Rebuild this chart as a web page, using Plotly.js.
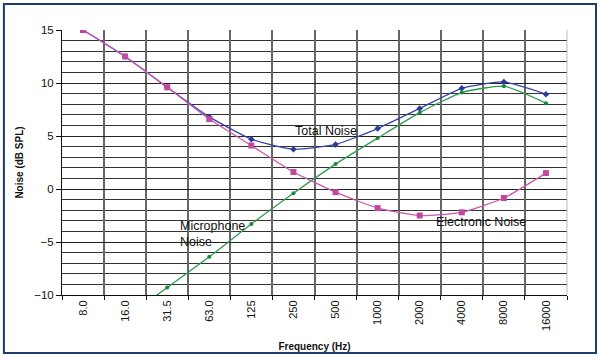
<!DOCTYPE html>
<html><head><meta charset="utf-8">
<script src="https://cdn.plot.ly/plotly-3.0.1.min.js"></script>
<style>html,body{margin:0;padding:0;background:#fff;}#chart{width:603px;height:360px;}</style>
</head><body><div id="chart"></div>
<script>
const freqLabels = ["8.0","16.0","31.5","63.0","125","250","500","1000","2000","4000","8000","16000"];
const electronicNoise = [15.0, 12.5, 9.6, 6.6, 4.1, 1.6, -0.3, -1.8, -2.5, -2.2, -0.85, 1.5];
const totalNoise = [15.0, 12.5, 9.6, 6.8, 4.7, 3.75, 4.2, 5.7, 7.6, 9.5, 10.1, 8.95];
const micLabels = ["16.0","31.5","63.0","125","250","500","1000","2000","4000","8000","16000"];
const micNoise = [-12.2, -9.3, -6.4, -3.3, -0.4, 2.35, 4.8, 7.2, 9.1, 9.7, 8.1];

const traces = [
  {x: freqLabels, y: electronicNoise, mode: 'lines+markers', name: 'Electronic Noise',
   line: {color: '#cc55b0', width: 1.3, shape: 'spline', smoothing: 0.5},
   marker: {symbol: 'square', size: 6, color: '#c0489f'}},
  {x: freqLabels, y: totalNoise, mode: 'lines+markers', name: 'Total Noise',
   line: {color: '#3344aa', width: 1.3, shape: 'spline', smoothing: 0.5},
   marker: {symbol: 'diamond', size: 5, color: '#2a3a9c'}},
  {x: micLabels, y: micNoise, mode: 'lines+markers', name: 'Microphone Noise',
   line: {color: '#2e9a4e', width: 1.3, shape: 'spline', smoothing: 0.5},
   marker: {symbol: 'circle', size: 4, color: '#178a3a'}}
];
const ordered = [traces[1], traces[2], traces[0]];

const layout = {
  width: 603, height: 360,
  margin: {l: 62, r: 36, t: 30, b: 65},
  paper_bgcolor: '#ffffff', plot_bgcolor: '#ffffff',
  showlegend: false,
  font: {family: 'Liberation Sans, Arial, sans-serif', color: '#111', size: 11},
  xaxis: {
    type: 'category', categoryorder: 'array', categoryarray: freqLabels,
    range: [-0.5, 11.5], tickson: 'boundaries',
    showgrid: true, gridcolor: '#666', gridwidth: 2,
    showline: true, linecolor: '#111', linewidth: 1,
    ticks: 'outside', ticklen: 4, tickcolor: '#111',
    tickangle: -90, tickfont: {size: 11, color: '#111'},
    title: {text: 'Frequency (Hz)', font: {size: 10, color: '#111', family: 'Liberation Sans, Arial, sans-serif', weight: 'bold'}, standoff: 13},
    zeroline: false, fixedrange: true
  },
  yaxis: {
    range: [-10, 15], dtick: 5, tick0: 0,
    showgrid: true, gridcolor: '#222', gridwidth: 1,
    minor: {dtick: 1, showgrid: true, gridcolor: '#333', gridwidth: 1},
    showline: true, linecolor: '#111', linewidth: 1,
    ticks: 'outside', ticklen: 5, tickcolor: '#111',
    tickfont: {size: 11.5, color: '#111'},
    zeroline: false,
    title: {text: 'Noise (dB SPL)', font: {size: 10, color: '#111', family: 'Liberation Sans, Arial, sans-serif', weight: 'bold'}, standoff: 8},
    fixedrange: true
  },
  annotations: [
    {x: 5, y: 5.5, xref: 'x', yref: 'y', text: 'Total Noise', showarrow: false, xanchor: 'left', xshift: 0, font: {size: 12.5, color: '#111'}},
    {x: 4, y: -4.25, xref: 'x', yref: 'y', text: 'Microphone<br>Noise', showarrow: false, xanchor: 'left', align: 'left', xshift: -73, font: {size: 12.5, color: '#111'}},
    {x: 9, y: -3.15, xref: 'x', yref: 'y', text: 'Electronic Noise', showarrow: false, xanchor: 'left', xshift: -28, font: {size: 12.5, color: '#111'}}
  ],
  shapes: [
    {type: 'line', xref: 'paper', yref: 'paper', x0: 1, x1: 1, y0: 0, y1: 1, line: {color: '#bbb', width: 1}},
    {type: 'rect', xref: 'paper', yref: 'paper', x0: -0.115, x1: 1.0574, y0: -0.219, y1: 1.098, line: {color: '#1f3b6b', width: 2}, fillcolor: 'rgba(0,0,0,0)'}
  ]
};
Plotly.newPlot('chart', ordered, layout, {displayModeBar: false, staticPlot: true});
</script>
</body></html>
